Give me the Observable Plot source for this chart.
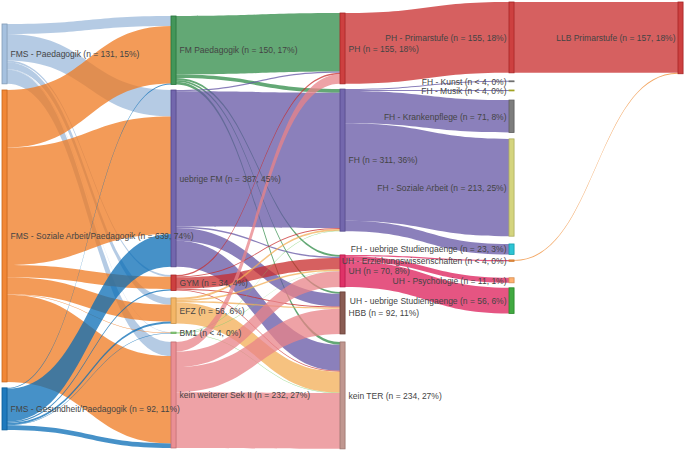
<!DOCTYPE html>
<html><head><meta charset="utf-8">
<script src="https://cdn.jsdelivr.net/npm/d3@7"></script>
<script src="https://cdn.jsdelivr.net/npm/@observablehq/plot@0.6"></script>
<style>body{margin:0;background:#fff} svg{display:block;font-family:"Liberation Sans",Arial,sans-serif}</style>
</head><body><div id="chart"></div>
<script>
// ---------- data ----------
const TOTAL = 862;
const nodeNames = [
  "FMS - Paedagogik", "FMS - Soziale Arbeit/Paedagogik", "FMS - Gesundheit/Paedagogik",
  "FM Paedagogik", "uebrige FM", "GYM", "EFZ", "BM1", "kein weiterer Sek II",
  "PH", "FH", "UH", "HBB", "kein TER",
  "PH - Primarstufe", "FH - Kunst", "FH - Musik", "FH - Krankenpflege", "FH - Soziale Arbeit",
  "FH - uebrige Studiengaenge", "UH - Erziehungswissenschaften", "UH - Psychologie", "UH - uebrige Studiengaenge",
  "LLB Primarstufe"
];
const nodeStage = [0,0,0, 1,1,1,1,1,1, 2,2,2,2,2, 3,3,3,3,3,3,3,3,3, 4];

const linkSource = [
  0,0,0,0,0,0, 1,1,1,1,1,1, 2,2,2,2,2,2,
  3,3,3,3,3, 4,4,4,4,4, 5,5,5,5,5, 6,6,6,6, 7,7,7, 8,8,8,8,
  9, 10,10,10,10,10, 11,11,11,
  14, 20
];
const linkTarget = [
  3,4,5,6,7,8, 3,4,5,6,7,8, 3,4,5,6,7,8,
  9,10,11,12,13, 9,10,11,12,13, 9,10,11,12,13, 10,11,12,13, 10,11,13, 9,11,12,13,
  14, 15,16,17,18,19, 20,21,22,
  23, 23
];
const linkValue = [
  22,58,4,15,1,31, 126,257,27,37,1,191, 2,72,3,4,1,10,
  128,8,4,4,6, 3,296,3,28,57, 3,2,25,2,2, 4,3,3,46, 1,1,1, 21,34,55,122,
  155, 2,2,71,213,23, 3,11,56,
  155, 2
];

// ---------- styles / layout (kept apart from the data) ----------
const nodeColors = [
  "#9cbadb", "#ef7a20", "#086cb6",
  "#2f8b47", "#6456a4", "#c82b2b", "#f3ae56", "#7fcf6f", "#e88388",
  "#c82b2b", "#6456a4", "#dc1c58", "#7d4a40", "#b98c84",
  "#c82b2b", "#7f7f7f", "#bcbd22", "#6f6f6f", "#cfcf70", "#17becf", "#ef8a30", "#ffa860", "#2ca02c",
  "#c82b2b"
];
// vertical gap (in value units) placed before each node within its stage
const gapBefore = [
  52.5, 13.5, 13,
  35, 12, 18, 16, 19, 18.5,
  28.5, 11.5, 52, 11, 17.5,
  4.4, 17.6, 18, 20, 14, 17, 12, 36, 11,
  4.4
];
const NODE_W = 0.03;

// ---------- layout ----------
const nodes = nodeNames.map((name, i) => {
  const inV = d3.sum(linkValue.filter((v, j) => linkTarget[j] === i));
  const outV = d3.sum(linkValue.filter((v, j) => linkSource[j] === i));
  return {i, name, stage: nodeStage[i], value: Math.max(inV, outV), color: nodeColors[i]};
});
for (let s = 0; s <= 4; s++) {
  let y = 0;
  nodes.filter(n => n.stage === s).forEach(n => {
    y += gapBefore[n.i];
    n.y0 = y; n.y1 = y + n.value; y = n.y1;
  });
}
nodes.forEach(n => {
  n.label = n.value < 4 ? `${n.name} (n < 4, 0%)`
    : `${n.name} (n = ${n.value}, ${Math.round(n.value / TOTAL * 100)}%)`;
});
const links = linkValue.map((v, j) => ({j, s: nodes[linkSource[j]], t: nodes[linkTarget[j]], v}));
nodes.forEach(n => {
  let y = n.y0;
  links.filter(l => l.s === n).sort((a, b) => a.t.y0 - b.t.y0 || a.j - b.j)
    .forEach(l => { l.sy0 = y; y += l.v; l.sy1 = y; });
  y = n.y0;
  links.filter(l => l.t === n).sort((a, b) => a.s.y0 - b.s.y0 || a.j - b.j)
    .forEach(l => { l.ty0 = y; y += l.v; l.ty1 = y; });
});
const linkPts = links.flatMap(l => [
  {id: l.j, x: l.s.stage + NODE_W, ya: l.sy0, yb: l.sy1, color: l.s.color},
  {id: l.j, x: l.t.stage, ya: l.ty0, yb: l.ty1, color: l.s.color}
]);

const chart = Plot.plot({
  width: 685, height: 450,
  margin: 0,
  x: {domain: [0, 4], range: [2, 678], axis: null},
  y: {domain: [0, 985], range: [0, 450], axis: null},
  marks: [
    Plot.area(linkPts, {x1: "x", y1: "ya", y2: "yb", z: "id", fill: "color", fillOpacity: 0.75, curve: "bump-x"}),
    Plot.rect(nodes, {x1: "stage", x2: d => d.stage + NODE_W, y1: "y0", y2: "y1", fill: "color",
      stroke: d => d3.color(d.color).darker(0.5).formatHex(), strokeWidth: 0.8, fillOpacity: 0.9}),
    Plot.text(nodes.filter(n => n.stage < 3), {x: d => d.stage + NODE_W, y: d => (d.y0 + d.y1) / 2,
      text: "label", textAnchor: "start", dx: 3, fontSize: 8.5, fill: "#444"}),
    Plot.text(nodes.filter(n => n.stage >= 3), {x: "stage", y: d => (d.y0 + d.y1) / 2,
      text: "label", textAnchor: "end", dx: -3, fontSize: 8.5, fill: "#444"})
  ]
});
document.getElementById("chart").appendChild(chart);
</script>
</body></html>
